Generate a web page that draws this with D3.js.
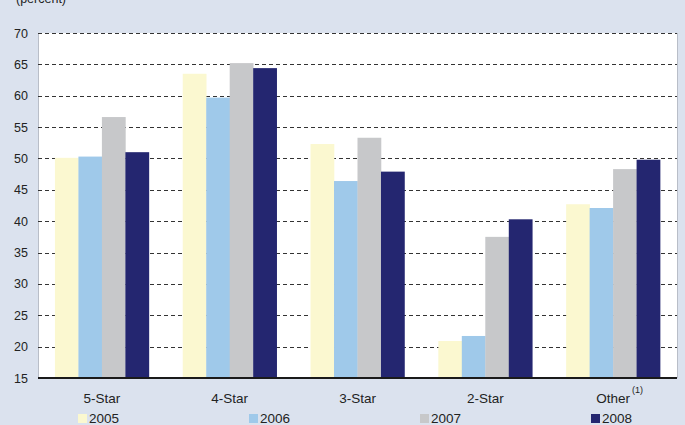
<!DOCTYPE html>
<html><head><meta charset="utf-8">
<script src="https://cdn.jsdelivr.net/npm/d3@7"></script>
<style>
html,body{margin:0;padding:0;background:#dbe2ee;}
svg{display:block;font-family:Arial,"Liberation Sans",sans-serif;}
</style></head>
<body>
<script>
const categories = ["5-Star","4-Star","3-Star","2-Star","Other"];
const years = ["2005","2006","2007","2008"];
const v2005 = [50.1, 63.5, 52.3, 20.9, 42.7];
const v2006 = [50.3, 59.7, 46.4, 21.7, 42.1];
const v2007 = [56.6, 65.2, 53.3, 37.5, 48.3];
const v2008 = [51.0, 64.4, 47.9, 40.3, 49.8];
const yTicks = [15,20,25,30,35,40,45,50,55,60,65,70];
const colors = ["#fbf8d0","#9fc9ea","#c7c8ca","#242670"];
const seriesVals = [v2005, v2006, v2007, v2008];

(function(){
const W = 685, H = 425;
const svg = d3.select("body").append("svg").attr("width", W).attr("height", H);
svg.append("rect").attr("width", W).attr("height", H).attr("fill", "#dbe2ee");

const pL = 38, pR = 677, pT = 33, pB = 378;
const x0 = d3.scaleBand().domain(categories).range([pL, pR]).paddingInner(0.265).paddingOuter(0.1325);
const x1 = d3.scaleBand().domain(years).range([0, x0.bandwidth()]).padding(0);
const y = d3.scaleLinear().domain([15, 70]).range([pB, pT]);

svg.append("rect").attr("x", pL).attr("y", pT).attr("width", pR - pL).attr("height", pB - pT)
  .attr("fill", "#fff");
svg.append("line").attr("x1", pL + 0.5).attr("x2", pL + 0.5).attr("y1", pT).attr("y2", pB).attr("stroke", "#b9bec8");
svg.append("line").attr("x1", pR + 0.5).attr("x2", pR + 0.5).attr("y1", pT).attr("y2", pB).attr("stroke", "#b9bec8");

const yAxis = d3.axisLeft(y).tickValues(yTicks).tickSize(0).tickPadding(10);
const ga = svg.append("g").attr("transform", `translate(${pL},0)`).call(yAxis);
ga.select(".domain").remove();
ga.selectAll("text").attr("font-size", 12.5).attr("fill", "#222").attr("font-family", "Arial,'Liberation Sans',sans-serif");
svg.append("g").selectAll("line").data(yTicks.filter(t => t > 15)).join("line")
  .attr("x1", pL).attr("x2", pR)
  .attr("y1", d => Math.round(y(d)) + 0.5).attr("y2", d => Math.round(y(d)) + 0.5)
  .attr("stroke", "#333").attr("stroke-dasharray", "4,3");

const g = svg.append("g");
categories.forEach((c, i) => {
  years.forEach((yr, j) => {
    const v = seriesVals[j][i];
    g.append("rect")
      .attr("x", x0(c) + x1(yr))
      .attr("y", y(v))
      .attr("width", x1.bandwidth() + 0.3)
      .attr("height", y(15) - y(v))
      .attr("fill", colors[j]);
  });
});

svg.append("line").attr("x1", pL).attr("x2", pR).attr("y1", pB).attr("y2", pB)
  .attr("stroke", "#1a1a1a").attr("stroke-width", 2.2);

const xAxis = d3.axisBottom(x0).tickSize(0).tickPadding(15);
const gx = svg.append("g").attr("transform", `translate(0,${pB})`).call(xAxis);
gx.select(".domain").remove();
gx.selectAll("text").attr("font-size", 13.5).attr("fill", "#222").attr("font-family", "Arial,'Liberation Sans',sans-serif");
svg.append("text").attr("x", x0("Other") + x0.bandwidth() / 2 + 19).attr("y", 393)
  .attr("font-size", 9).attr("fill", "#222").text("(1)");

svg.append("text").attr("x", 16).attr("y", 3).attr("font-size", 12.5).attr("fill", "#222").text("(percent)");

const legX = [78, 249, 420, 591];
years.forEach((yr, j) => {
  svg.append("rect").attr("x", legX[j]).attr("y", 414).attr("width", 9).attr("height", 9).attr("fill", colors[j]);
  svg.append("text").attr("x", legX[j] + 11).attr("y", 423).attr("font-size", 13.5).attr("fill", "#222").text(yr);
});
})();
</script>
</body></html>
